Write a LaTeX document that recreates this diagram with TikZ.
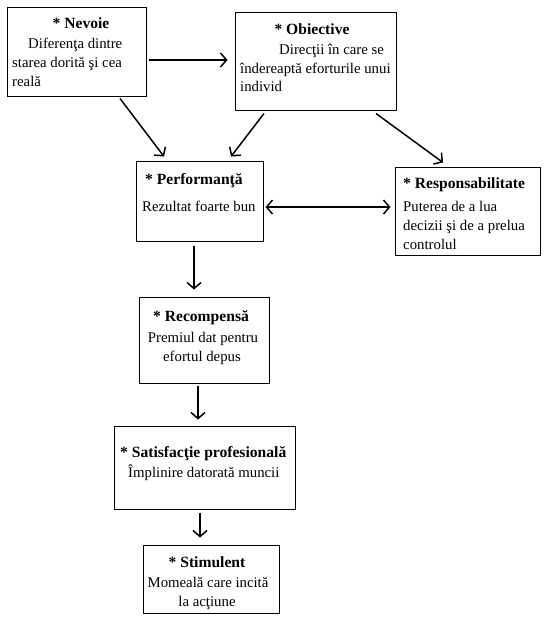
\documentclass[tikz,border=0pt]{standalone}
\usepackage{fontspec}
\setmainfont{Liberation Serif}
\usetikzlibrary{arrows.meta,fit}
\tikzset{
  box/.style={draw, line width=1pt, inner sep=0pt},
  ttl/.style={font=\fontsize{15.6}{18}\selectfont\bfseries, inner sep=0pt, yshift=-2pt},
  txt/.style={font=\fontsize{14.8}{18}\selectfont, inner sep=0pt, yshift=-2pt},
  arr/.style={line width=1.5pt, -{Straight Barb[length=6pt,width=14pt,line width=1.5pt]}},
  darr/.style={line width=1.5pt, {Straight Barb[length=6pt,width=14pt,line width=1.5pt]}-{Straight Barb[length=6pt,width=14pt,line width=1.5pt]}}
}
\begin{document}
\begin{tikzpicture}[x=1pt,y=-1pt]
\useasboundingbox (0,0) rectangle (546,632);
% boxes
\node[box, fit={(7,7)(146,96)}] (nev) {};
\node[box, fit={(235,12)(396,110)}] (obj) {};
\node[box, fit={(136,161)(263,241)}] (perf) {};
\node[box, fit={(395,167)(540,255)}] (resp) {};
\node[box, fit={(139,297)(269,383)}] (rec) {};
\node[box, fit={(114,426)(295,509)}] (sat) {};
\node[box, fit={(143,545)(279,613)}] (stim) {};
% texts
\node[ttl, anchor=mid] (nev1) at (81,24) {* Nevoie};
\node[txt, anchor=mid west] (nev2) at (28,44) {Diferenţa dintre};
\node[txt, anchor=mid west] (nev3) at (12,63) {starea dorită şi cea};
\node[txt, anchor=mid west] (nev4) at (12,82) {reală};
\node[ttl, anchor=mid] (obj1) at (312,30) {* Obiective};
\node[txt, anchor=mid west] (obj2) at (279,50) {Direcţii în care se};
\node[txt, anchor=mid west] (obj3) at (240,69) {îndereaptă eforturile unui};
\node[txt, anchor=mid west] (obj4) at (240,87) {individ};
\node[ttl, anchor=mid west] (perf1) at (145,180) {* Performanţă};
\node[txt, anchor=mid west] (perf2) at (142,207) {Rezultat foarte bun};
\node[ttl, anchor=mid west] (resp1) at (403,184) {* Responsabilitate};
\node[txt, anchor=mid west] (resp2) at (403,207) {Puterea de a lua};
\node[txt, anchor=mid west] (resp3) at (403,226) {decizii şi de a prelua};
\node[txt, anchor=mid west] (resp4) at (403,245) {controlul};
\node[ttl, anchor=mid] (rec1) at (201,317) {* Recompensă};
\node[txt, anchor=mid] (rec2) at (203,338) {Premiul dat pentru};
\node[txt, anchor=mid] (rec3) at (202,357) {efortul depus};
\node[ttl, anchor=mid west] (sat1) at (120,453) {* Satisfacţie profesională};
\node[txt, anchor=mid west] (sat2) at (128,473) {Împlinire datorată muncii};
\node[ttl, anchor=mid] (stim1) at (207,563) {* Stimulent};
\node[txt, anchor=mid] (stim2) at (208,583) {Momeală care incită};
\node[txt, anchor=mid] (stim3) at (207,602) {la acţiune};
% connectors
\draw[arr] ([xshift=2pt,yshift=-8.5pt]nev.east) -- ([xshift=-7pt,yshift=1pt]obj.west);
\draw[arr] ([xshift=43.5pt,yshift=-2pt]nev.south) -- ([xshift=-35.5pt,yshift=4pt]perf.north);
\draw[arr] ([xshift=-51.5pt,yshift=-3pt]obj.south) -- ([xshift=31.5pt,yshift=4pt]perf.north);
\draw[arr] ([xshift=60.5pt,yshift=-3pt]obj.south) -- ([xshift=-24.5pt,yshift=4pt]resp.north);
\draw[darr] ([xshift=2pt,yshift=-6pt]perf.east) -- ([xshift=-4pt,yshift=4pt]resp.west);
\draw[arr] ([xshift=-5.5pt,yshift=-4pt]perf.south) -- ([xshift=-10pt,yshift=7pt]rec.north);
\draw[arr] ([xshift=-6pt,yshift=-2pt]rec.south) -- ([xshift=-6.5pt,yshift=6pt]sat.north);
\draw[arr] ([xshift=-4.5pt,yshift=-3pt]sat.south) -- ([xshift=-11pt,yshift=7pt]stim.north);
\end{tikzpicture}
\end{document}
